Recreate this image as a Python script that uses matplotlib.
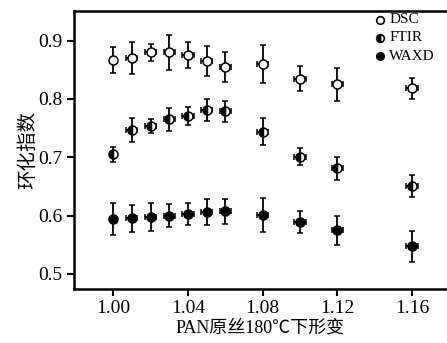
import matplotlib.pyplot as plt
import numpy as np

plt.rcParams['font.family'] = ['Liberation Serif', 'Noto Sans CJK SC']

# deformacao e indices de ciclizacao
x = [1.00, 1.01, 1.02, 1.03, 1.04, 1.05, 1.06, 1.08, 1.10, 1.12, 1.16]
xerr = [0.0, 0.003, 0.003, 0.003, 0.003, 0.003, 0.003, 0.003, 0.003, 0.003, 0.003]

dsc = [0.867, 0.870, 0.880, 0.880, 0.875, 0.865, 0.855, 0.860, 0.835, 0.825, 0.818]
dsc_err = [0.023, 0.027, 0.015, 0.030, 0.022, 0.026, 0.025, 0.033, 0.022, 0.028, 0.018]

ftir = [0.705, 0.747, 0.753, 0.765, 0.771, 0.781, 0.779, 0.744, 0.701, 0.681, 0.651]
ftir_err = [0.013, 0.020, 0.012, 0.020, 0.015, 0.019, 0.018, 0.023, 0.015, 0.020, 0.019]

waxd = [0.594, 0.595, 0.598, 0.600, 0.603, 0.606, 0.607, 0.601, 0.589, 0.575, 0.547]
waxd_err = [0.028, 0.023, 0.024, 0.020, 0.019, 0.023, 0.022, 0.029, 0.019, 0.025, 0.026]

fig = plt.figure(figsize=(4.47, 3.43), dpi=100)
ax = fig.add_axes([0.1655, 0.1574, 0.8345, 0.8106])

estilo = dict(ecolor='k', elinewidth=1.3, capsize=2.5, capthick=1.3, ls='none',
              markersize=6.5, markeredgecolor='k', markeredgewidth=1.1)
ax.errorbar(x, dsc, yerr=dsc_err, xerr=xerr, marker='o', markerfacecolor='white', **estilo)
ax.errorbar(x, ftir, yerr=ftir_err, xerr=xerr, marker='o', fillstyle='left',
            markerfacecolor='k', markerfacecoloralt='white', **estilo)
ax.errorbar(x, waxd, yerr=waxd_err, xerr=xerr, marker='o', markerfacecolor='k', **estilo)

ax.set_xlim(0.979, 1.1787)
ax.set_ylim(0.474, 0.951)
ax.set_xticks([1.00, 1.04, 1.08, 1.12, 1.16])
ax.set_xticklabels(['1.00', '1.04', '1.08', '1.12', '1.16'])
ax.set_yticks([0.5, 0.6, 0.7, 0.8, 0.9])
ax.set_yticklabels(['0.5', '0.6', '0.7', '0.8', '0.9'])
ax.tick_params(direction='out', length=5, width=1.5, labelsize=14, pad=3)
for s in ['left', 'bottom', 'top']:
    ax.spines[s].set_linewidth(1.8)
ax.spines['right'].set_visible(False)

ax.set_xlabel('PAN原丝180℃下形变', fontsize=13, labelpad=2)
ax.set_ylabel('环化指数', fontsize=14, labelpad=1)

# legenda manual no canto superior direito
leg_y = [0.968, 0.903, 0.838]
ax.plot(0.82, leg_y[0], 'o', transform=ax.transAxes, ms=5.5, mfc='white', mec='k', mew=1.2)
ax.plot(0.82, leg_y[1], 'o', transform=ax.transAxes, ms=5.5, fillstyle='left', mfc='k',
        mfcalt='white', mec='k', mew=1.2)
ax.plot(0.82, leg_y[2], 'o', transform=ax.transAxes, ms=5.5, mfc='k', mec='k')
for yy, t in zip(leg_y, ['DSC', 'FTIR', 'WAXD']):
    ax.text(0.845, yy, t, transform=ax.transAxes, fontsize=11, va='center', ha='left')

fig.savefig('out.png', dpi=100)
